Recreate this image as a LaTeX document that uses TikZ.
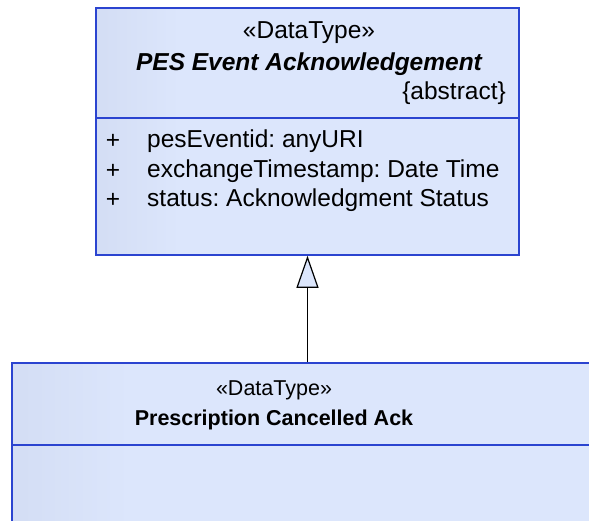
\documentclass[tikz,border=0pt]{standalone}
\usepackage{fontspec}
\setmainfont{Liberation Sans}
\usetikzlibrary{arrows.meta}

\definecolor{umlfill}{HTML}{DCE6FC}
\definecolor{umlshade}{HTML}{C3CDE6}
\definecolor{umlline}{HTML}{2B44D0}
\pgfdeclarehorizontalshading{classfill}{100bp}{color(0bp)=(umlfill); color(1bp)=(umlshade); color(6bp)=(umlshade); color(35bp)=(umlfill); color(100bp)=(umlfill)}

\tikzset{
  classbox/.style={rectangle, draw=umlline, line width=1.5pt, shading=classfill, inner sep=0pt},
  umltext/.style={inner sep=0pt, font=\fontsize{24.5}{28}\selectfont},
  childtext/.style={inner sep=0pt, font=\fontsize{21.5}{25}\selectfont},
}

\begin{document}
\begin{tikzpicture}[x=1pt,y=-1pt]
  \useasboundingbox (0,0) rectangle (589,520);
  \clip (0,0) rectangle (589,520);

  % Class boxes
  \node[classbox, minimum width=423pt, minimum height=247pt] (pes) at (307.5,131.5) {};
  \node[classbox, minimum width=592pt, minimum height=197pt] (ack) at (308,461.5) {};

  % Compartment lines
  \draw[umlline, line width=1.5pt] (pes.west |- 0,118) -- (pes.east |- 0,118);
  \draw[umlline, line width=1.5pt] (ack.west |- 0,445) -- (ack.east |- 0,445);

  % Generalization
  \draw[-{Triangle[length=32pt,width=22pt,fill=umlfill]}, line width=1.2pt]
  (ack.north -| pes.south) -- (pes.south);

  % Parent class
  \node[umltext] (pesstereo) at (309,33) {«DataType»};
  \node[umltext, font=\fontsize{24.5}{28}\selectfont\bfseries\itshape] (pesname) at (309,64) {PES Event Acknowledgement};
  \node[umltext, anchor=east] (pesabstract) at (506,93) {\{abstract\}};

  \node[umltext] (plus1) at (113,141) {+};
  \node[umltext] (plus2) at (113,171) {+};
  \node[umltext] (plus3) at (113,200) {+};
  \node[umltext, anchor=west] (attr1) at (147,141) {pesEventid:\ anyURI};
  \node[umltext, anchor=west] (attr2) at (147,171) {exchangeTimestamp:\ Date Time};
  \node[umltext, anchor=west] (attr3) at (147,200) {status:\ Acknowledgment Status};

  % Child class
  \node[childtext] (ackstereo) at (274,390) {«DataType»};
  \node[childtext, font=\fontsize{21.5}{25}\selectfont\bfseries] (ackname) at (274,420) {Prescription Cancelled Ack};

\end{tikzpicture}
\end{document}
